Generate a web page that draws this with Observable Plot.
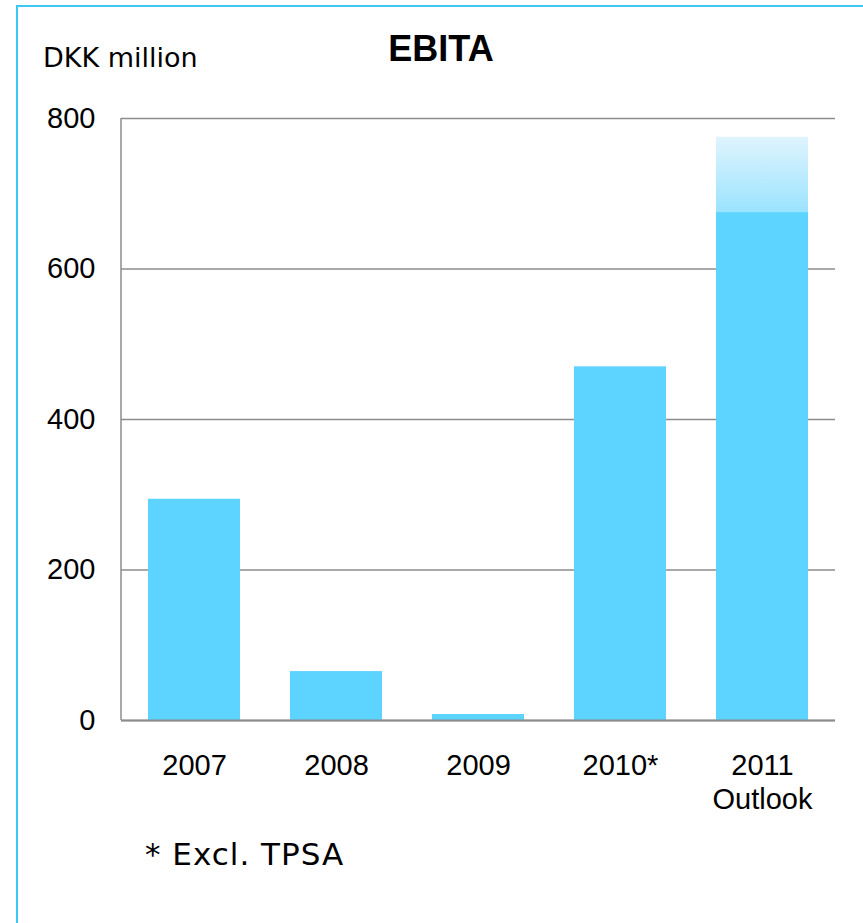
<!DOCTYPE html>
<html>
<head>
<meta charset="utf-8">
<script src="https://cdn.jsdelivr.net/npm/d3@7"></script>
<script src="https://cdn.jsdelivr.net/npm/@observablehq/plot@0.6"></script>
<style>
  html, body { margin: 0; padding: 0; background: #fff; overflow: hidden; }
  #wrap { position: relative; width: 863px; height: 923px; overflow: hidden; }
  #wrap svg { position: absolute; left: 0; top: 0; }
  .border { position: absolute; left: 16px; top: 5px; width: 1000px; height: 1000px;
            border-left: 2px solid #3cc8f6; border-top: 2px solid #3cc8f6; }
  .txt { position: absolute; line-height: 1; white-space: nowrap; color: #000; }
  #title { font-family: "Liberation Sans", Arial, sans-serif; font-weight: bold; font-size: 36px;
           left: 441px; top: 31px; transform: translateX(-50%); }
  #unit { font-family: "DejaVu Sans", Verdana, sans-serif; font-size: 27px; left: 43px; top: 44px; }
  #note { font-family: "DejaVu Sans", Verdana, sans-serif; font-size: 31px; letter-spacing: 1px;
          left: 145px; top: 839px; }
</style>
</head>
<body>
<div id="wrap">
  <div class="border"></div>
  <div id="chart"></div>
  <div class="txt" id="title">EBITA</div>
  <div class="txt" id="unit">DKK million</div>
  <div class="txt" id="note">* Excl. TPSA</div>
</div>
<script>
// Data
const years = ["2007", "2008", "2009", "2010*", "2011"];
const xLabels = ["2007", "2008", "2009", "2010*", "2011\nOutlook"];
const ebita = [294, 65, 8, 470, 675];
const outlookYear = ["2011"];
const outlookLow = [675];
const outlookHigh = [775];
const yTicks = [0, 200, 400, 600, 800];

const rows = years.map((y, i) => ({year: y, value: ebita[i]}));
const outlook = outlookYear.map((y, i) => ({year: y, lo: outlookLow[i], hi: outlookHigh[i]}));

const defs = () => {
  const svgDefs = d3.create("svg:defs");
  const g = svgDefs.append("linearGradient")
    .attr("id", "outlookGrad").attr("x1", 0).attr("y1", 0).attr("x2", 0).attr("y2", 1);
  g.append("stop").attr("offset", "0%").attr("stop-color", "#dff4fd");
  g.append("stop").attr("offset", "100%").attr("stop-color", "#9be3ff");
  return svgDefs.node();
};

const leftAxisLine = (index, scales, values, dims) => {
  const x = dims.marginLeft;
  return d3.create("svg:line")
    .attr("x1", x).attr("x2", x)
    .attr("y1", scales.y(800)).attr("y2", scales.y(0))
    .attr("stroke", "#8c8c8c").attr("stroke-width", 1.5).node();
};

const fmtX = d => xLabels[years.indexOf(d)];

const chart = Plot.plot({
  width: 863,
  height: 923,
  marginLeft: 121,
  marginRight: 28,
  marginTop: 118,
  marginBottom: 203,
  style: {fontFamily: "'Liberation Sans', Arial, sans-serif", fontSize: "29px", color: "#000", background: "transparent", overflow: "visible"},
  x: {domain: years, paddingInner: 0.35, paddingOuter: 0.175, label: null, tickFormat: fmtX},
  y: {domain: [0, 800], label: null},
  marks: [
    defs,
    Plot.gridY(yTicks, {stroke: "#8c8c8c", strokeOpacity: 1, strokeWidth: 1.5}),
    leftAxisLine,
    Plot.barY(rows, {x: "year", y: "value", fill: "#5dd3ff"}),
    Plot.barY(outlook, {x: "year", y1: "lo", y2: "hi", fill: "url(#outlookGrad)"}),
    Plot.ruleY([0], {stroke: "#8c8c8c", strokeWidth: 2}),
    Plot.axisY({ticks: yTicks, tickSize: 0, tickPadding: 26, fontSize: 29}),
    Plot.axisX({tickSize: 0, tickPadding: 30, fontSize: 29, lineHeight: 1.17, tickFormat: fmtX})
  ]
});
document.getElementById("chart").appendChild(chart);
</script>
</body>
</html>
